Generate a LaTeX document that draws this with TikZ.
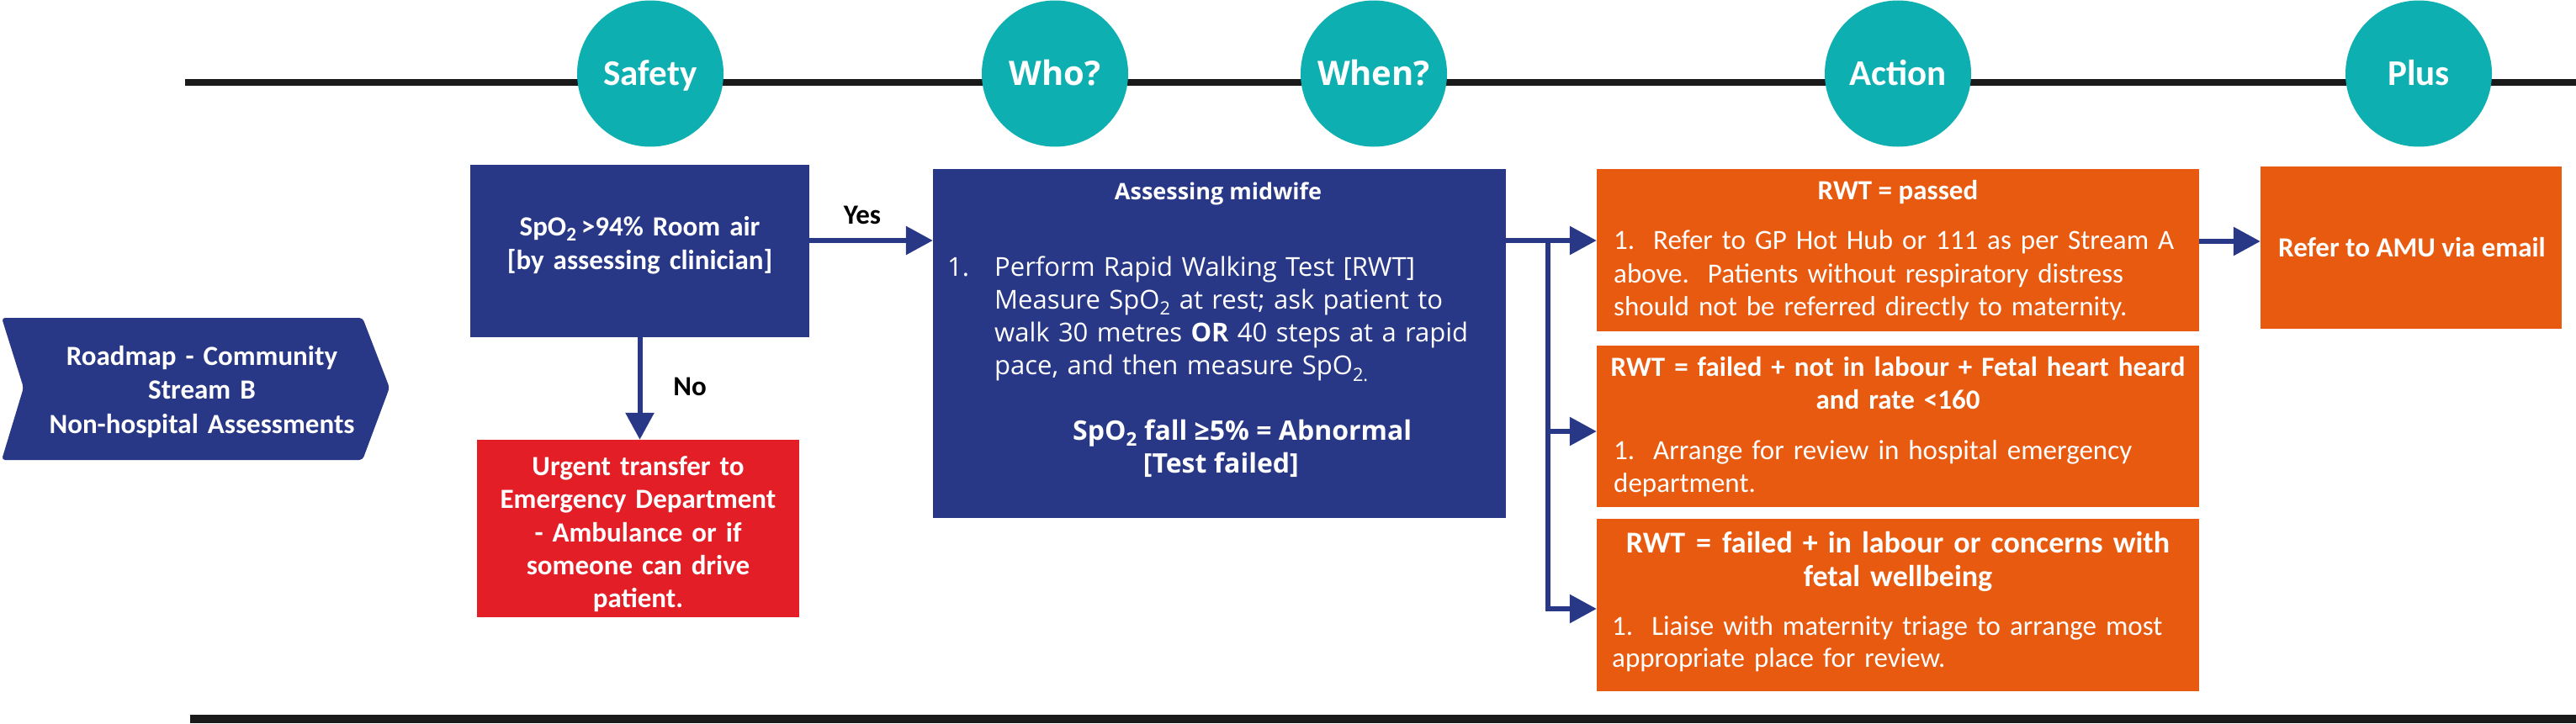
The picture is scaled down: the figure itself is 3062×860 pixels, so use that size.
\documentclass[tikz,border=0pt]{standalone}
\usepackage{fontspec}
\setmainfont{Carlito}
\newfontfamily\segoe{Open Sans}
\usetikzlibrary{arrows.meta}
\definecolor{navy}{HTML}{283886}
\definecolor{tealc}{HTML}{0EAFB1}
\definecolor{redc}{HTML}{E41E26}
\definecolor{orangec}{HTML}{E85A0F}
\definecolor{rulec}{HTML}{1A1A1A}
\newcommand\fs[2]{\fontsize{#1pt}{#2pt}\selectfont}
\begin{document}
\begin{tikzpicture}[x=1pt,y=-1pt,
  circ/.style={circle, fill=tealc, minimum size=174pt, inner sep=0pt, text=white},
  calcirc/.style={circ, font=\fs{43}{50}\bfseries, text height=27.7pt, text depth=0pt},
  segcirc/.style={circ, font=\segoe\fs{40}{48}\bfseries, text height=28.6pt, text depth=0pt},
  boxn/.style={rectangle, inner sep=0pt},
  wtxt/.style={inner sep=0pt, text=white},
  conn/.style={draw=navy, line width=6pt, line join=miter, -{Triangle[length=32pt,width=33pt]}},
  rulel/.style={draw=rulec, line width=8pt}
]
\useasboundingbox (0,0) rectangle (3062,860);
\fill[white] (0,0) rectangle (3062,860);

% rules
\draw[rulel] (220,97.5) -- (3062,97.5);
\draw[rulel, line width=10pt] (226,855) -- (3062,855);

% circles
\node[calcirc] (safety) at (773,87.5) {Safety};
\node[segcirc] (who) at (1254,87.5) {Who?};
\node[segcirc] (when) at (1633,87.5) {When?};
\node[calcirc] (action) at (2256,87.5) {Action};
\node[calcirc] (plus) at (2875,87.5) {Plus};

% chevron
\fill[navy, rounded corners=4pt] (2,378) -- (431,378) -- (463,461) -- (431,547) -- (2,547) -- (28,461) -- cycle;
\node[wtxt, anchor=base, text width=420pt, align=center, font=\fs{33}{40.5}\bfseries] (road) at (240,434)
  {Roadmap - Community\\Stream B\hspace*{36pt}\\Non-hospital Assessments};

% boxes
\node[boxn, fill=navy, minimum width=403pt, minimum height=205pt] (sp) at (760.5,298.5) {};
\node[boxn, fill=redc, minimum width=383pt, minimum height=211pt] (red) at (758.5,628.5) {};
\node[boxn, fill=navy, minimum width=681pt, minimum height=415pt] (mid) at (1449.5,408.5) {};
\node[boxn, fill=orangec, minimum width=716pt, minimum height=193pt] (o1) at (2256,297.5) {};
\node[boxn, fill=orangec, minimum width=716pt, minimum height=192pt] (o2) at (2256,507) {};
\node[boxn, fill=orangec, minimum width=716pt, minimum height=205pt] (o3) at (2256,719.5) {};
\node[boxn, fill=orangec, minimum width=358pt, minimum height=193pt] (amu) at (2866,294.5) {};

% box texts
\node[wtxt, anchor=base, text width=403pt, align=center, font=\fs{33}{40}\bfseries] (spt) at (760.5,280)
  {SpO\textsubscript{2}\,>94\% Room air\\{}[by assessing clinician]};
\node[wtxt, anchor=base, text width=383pt, align=center, font=\fs{33}{39.3}\bfseries] (redt) at (758.5,565.6)
  {Urgent transfer to\\Emergency Department\\- Ambulance or if\\someone can drive\\patient.};

\node[wtxt, anchor=base, font=\segoe\fs{27}{33}\bfseries] (midt) at (1448,237) {Assessing midwife};
\node[wtxt, anchor=base west, font=\segoe\fs{31}{39.3}] (midn) at (1126,328) {1.};
\node[wtxt, anchor=base west, text width=600pt, align=left, font=\segoe\fs{31}{39.3}] (midl) at (1182,328)
  {Perform Rapid Walking Test [RWT]\\Measure SpO\textsubscript{2} at rest; ask patient to\\walk 30 metres \textbf{OR} 40 steps at a rapid\\pace, and then measure SpO\textsubscript{2.}};
\node[wtxt, anchor=base west, font=\segoe\fs{32}{39}\bfseries] (midf) at (1275,523) {SpO\textsubscript{2} fall ≥5\% = Abnormal};
\node[wtxt, anchor=base west, font=\segoe\fs{32}{39}\bfseries] (midtf) at (1358.7,562) {[Test failed]};

\node[wtxt, anchor=base, font=\fs{33}{39.5}\bfseries] (o1t) at (2256,237) {RWT = passed};
\node[wtxt, anchor=base west, text width=690pt, align=left, font=\fs{33}{39.5}] (o1b) at (1918,296.5)
  {1.\ \ Refer to GP Hot Hub or 111 as per Stream A\\above.\ \ Patients without respiratory distress\\should not be referred directly to maternity.};
\node[wtxt, anchor=base, text width=716pt, align=center, font=\fs{33}{38.4}\bfseries] (o2t) at (2256,447.6)
  {RWT = failed + not in labour + Fetal heart heard\\and rate <160};
\node[wtxt, anchor=base west, text width=690pt, align=left, font=\fs{33}{38.6}] (o2b) at (1918,546.4)
  {1.\ \ Arrange for review in hospital emergency\\department.};
\node[wtxt, anchor=base, text width=716pt, align=center, font=\fs{36}{40.4}\bfseries] (o3t) at (2256,657)
  {RWT\hspace{13pt}=\hspace{13pt}failed + in labour or concerns with\\fetal wellbeing};
\node[wtxt, anchor=base west, text width=690pt, align=left, font=\fs{33}{38.5}] (o3b) at (1916,755)
  {1.\ \ Liaise with maternity triage to arrange most\\appropriate place for review.};
\node[wtxt, anchor=base, font=\fs{33}{40}\bfseries] (amut) at (2867,305) {Refer to AMU via email};

% labels
\node[inner sep=0pt, anchor=base, font=\fs{33}{40}\bfseries] (yes) at (1025,266) {Yes};
\node[inner sep=0pt, anchor=base, font=\fs{33}{40}\bfseries] (no) at (820,470) {No};

% connectors
\coordinate (yy) at (0,286);
\coordinate (j1) at (1840,286);
\coordinate (j2) at (1840,513);
\coordinate (j3) at (1840,724);
\coordinate (pp) at (0,287);
\draw[conn] (sp.east|-yy) -- (mid.west|-yy);
\draw[conn] (sp.south) -- (sp.south|-red.north);
\draw[conn] (mid.east|-j1) -- (o1.west|-j1);
\draw[conn] (j1) |- (o3.west|-j3);
\draw[conn] (j2) -- (o2.west|-j2);
\draw[conn] (o1.east|-pp) -- (amu.west|-pp);
\end{tikzpicture}
\end{document}
